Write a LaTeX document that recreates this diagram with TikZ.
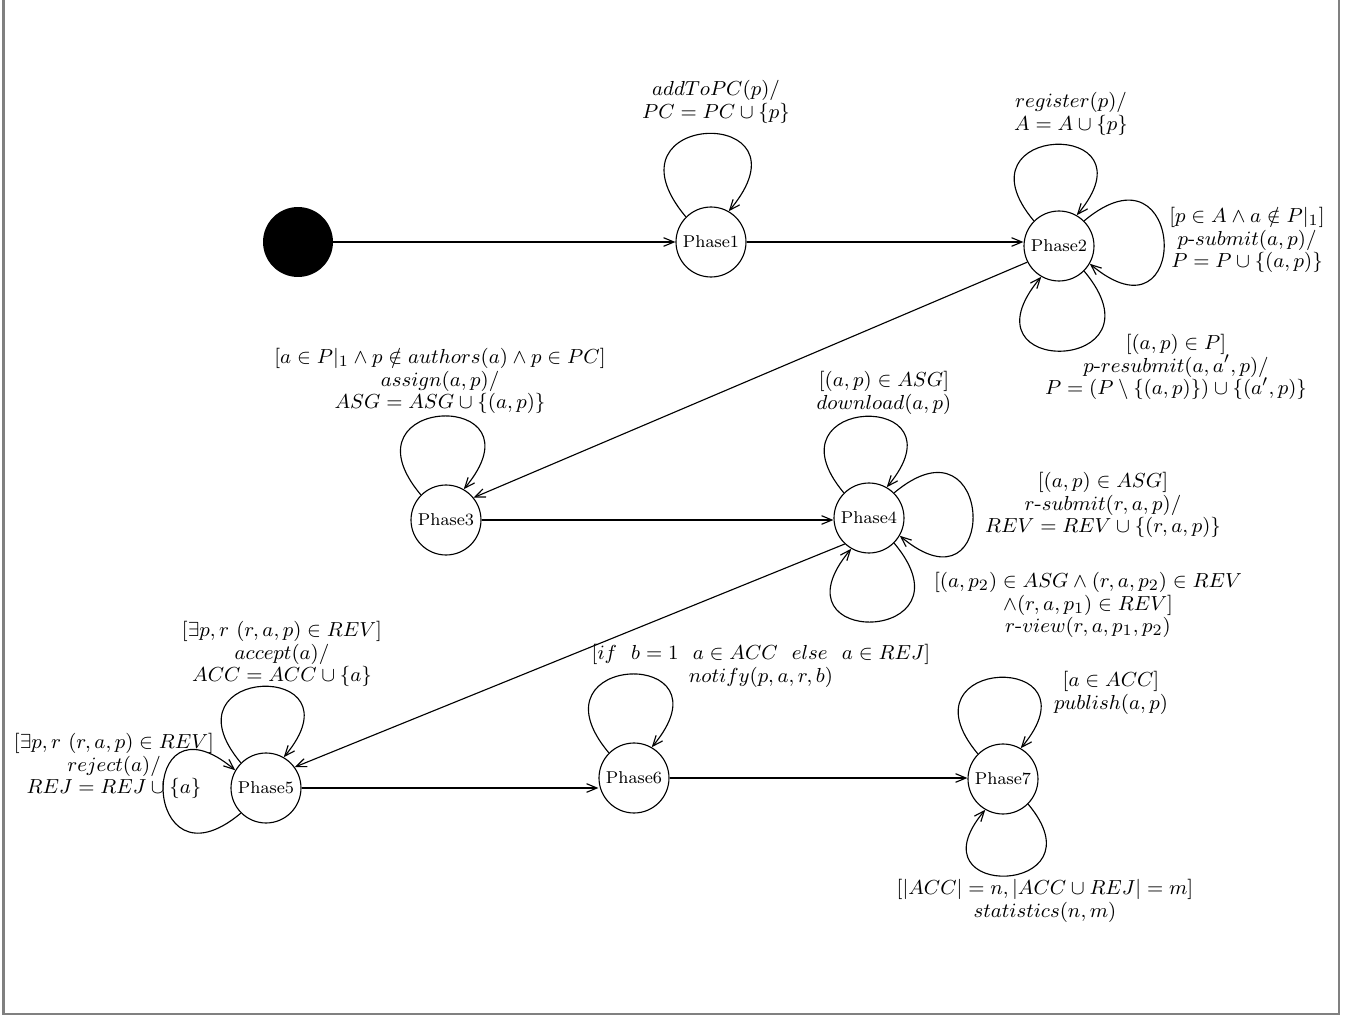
\documentclass[tikz,border=0pt]{standalone}
\usepackage{amsmath,amssymb}
\usetikzlibrary{arrows.meta}

% fixed line pitch for the multi-line transition labels
\newcommand\tightlines{\fontsize{9.5}{10}\selectfont\lineskiplimit-100pt\relax}

% one drawing unit = one pixel of the final sheet
\tikzset{
  x=0.443pt, y=0.443pt,
  state/.style={circle, draw, line width=0.5pt, minimum size=31pt, inner sep=0pt,
    font=\fontsize{7.6}{9}\selectfont},
  initdot/.style={circle, fill=black, minimum size=31pt, inner sep=0pt},
  trans/.style={line width=0.5pt, -{Straight Barb[length=4.6pt,width=3.8pt]}},
  lab/.style={align=center, inner sep=0pt, font=\tightlines},
  sheetframe/.style={draw=black!50, line width=0.9pt},
}

% self loop on node #1, bulging in direction #2 (degrees), reach #3
\newcommand\selfloop[3]{%
  \pgfmathtruncatemacro\lpa{#2+45}\pgfmathtruncatemacro\lpb{#2-30}%
  \pgfmathtruncatemacro\lpc{#2+40}\pgfmathtruncatemacro\lpd{#2-40}%
  \draw[trans] (#1.\lpa) .. controls +(\lpc:#3) and +(\lpd:#3) .. (#1.\lpb);}

\begin{document}
\begin{tikzpicture}
\useasboundingbox (0,0) rectangle (1349,-1016);
\draw[sheetframe] (3.5,5) -- (3.5,-1014) -- (1339,-1014) -- (1339,5);

% states
\node[initdot] (init) at (298,-242) {};
\node[state] (p1) at (711,-242) {Phase1};
\node[state] (p2) at (1059,-246) {Phase2};
\node[state] (p3) at (446,-520) {Phase3};
\node[state] (p4) at (869,-518) {Phase4};
\node[state] (p5) at (266,-788) {Phase5};
\node[state] (p6) at (634,-778) {Phase6};
\node[state] (p7) at (1003,-779) {Phase7};

% transitions between phases
\draw[trans] (init) -- (p1);
\draw[trans] (p1) -- (p1 -| p2.west);
\draw[trans] (p2.207) -- (p3.39);
\draw[trans] (p3) -- (p3 -| p4.west);
\draw[trans] (p4.227) -- (p5.36);
\draw[trans] (p5) -- (p5 -| p6.west);
\draw[trans] (p6) -- (p6 -| p7.west);

% self loops
\selfloop{p1}{90}{140}
\selfloop{p2}{90}{128}
\selfloop{p2}{0}{134}
\selfloop{p2}{-90}{134}
\selfloop{p3}{90}{132}
\selfloop{p4}{90}{128}
\selfloop{p4}{0}{132}
\selfloop{p4}{-90}{132}
\selfloop{p5}{90}{128}
\selfloop{p5}{180}{130}
\selfloop{p6}{90}{132}
\selfloop{p7}{90}{128}
\selfloop{p7}{-90}{120}

% loop labels
\node[lab] (l1) at (716,-102) {$addToPC(p)/$\\$PC = PC \cup \{p\}$};
\node[lab] (l2a) at (1071,-114) {$register(p)/$\\$A = A \cup \{p\}$};
\node[lab] (l2b) at (1247,-240) {$[p \in A \wedge a \notin P|_1]$\\$p\text{-}submit(a,p)/$\\$P = P \cup \{(a,p)\}$};
\node[lab] (l2c) at (1176,-367) {$[(a,p) \in P]$\\$p\text{-}resubmit(a,a',p)/$\\$P = (P \setminus \{(a,p)\}) \cup \{(a',p)\}$};
\node[lab] (l3) at (440,-381) {$[a \in P|_1 \wedge p \notin authors(a) \wedge p \in PC]$\\$assign(a,p)/$\\$ASG = ASG \cup \{(a,p)\}$};
\node[lab] (l4a) at (884,-393) {$[(a,p) \in ASG]$\\$download(a,p)$};
\node[lab] (l4b) at (1103,-505) {$[(a,p) \in ASG]$\\$r\text{-}submit(r,a,p)/$\\$REV = REV \cup \{(r,a,p)\}$};
\node[lab] (l4c) at (1088,-605) {$[(a,p_2) \in ASG \wedge (r,a,p_2) \in REV$\\$\wedge(r,a,p_1) \in REV]$\\$r\text{-}view(r,a,p_1,p_2)$};
\node[lab] (l5a) at (282,-654) {$[\exists p, r\ (r,a,p) \in REV]$\\$accept(a)/$\\$ACC = ACC \cup \{a\}$};
\node[lab] (l5b) at (114,-766) {$[\exists p, r\ (r,a,p) \in REV]$\\$reject(a)/$\\$REJ = REJ \cup \{a\}$};
\node[lab] (l6) at (761,-666) {$[if\ \ b = 1\ \ a \in ACC\ \ else\ \ a \in REJ]$\\$notify(p,a,r,b)$};
\node[lab] (l7a) at (1111,-693) {$[a \in ACC]$\\$publish(a,p)$};
\node[lab] (l7b) at (1045,-901) {$[|ACC| = n, |ACC \cup REJ| = m]$\\$statistics(n,m)$};
\end{tikzpicture}
\end{document}
